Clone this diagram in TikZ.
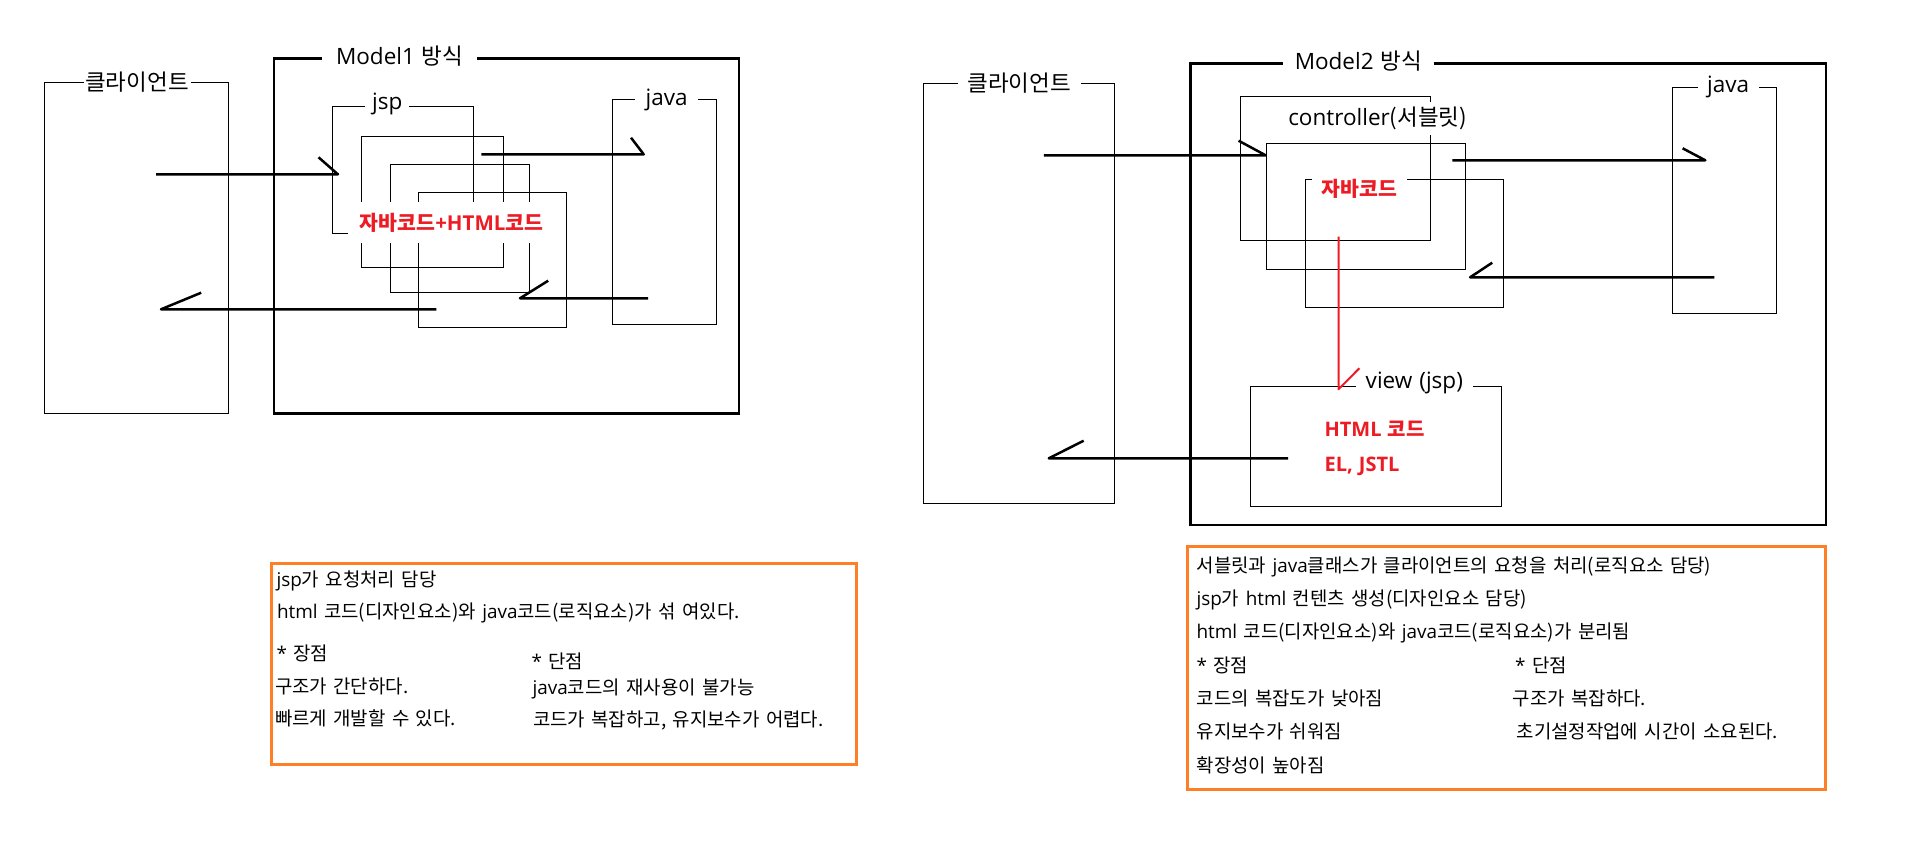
\documentclass[tikz,border=0pt]{standalone}
\usepackage{fontspec}
\setmainfont{Noto Sans CJK KR}
\newfontfamily\oslat{Open Sans}
\definecolor{cjred}{HTML}{ED1C24}
\definecolor{cjorange}{HTML}{FF7F27}
\newcommand\mylblfont{\fontsize{22.5}{26}\selectfont\spaceskip 7pt\relax}
\newcommand\myredfont{\bfseries\fontsize{20}{24}\selectfont\spaceskip 6pt\relax}
\newcommand\mynotefont{\fontsize{18.9}{22}\selectfont\spaceskip 6.4pt\relax}
\begin{document}
\begin{tikzpicture}[x=1pt,y=-1pt,
  thinbox/.style={draw,line width=1pt,inner sep=0pt,anchor=north west},
  modelbox/.style={draw,line width=2.5pt,inner sep=0pt,anchor=north west},
  notebox/.style={draw=cjorange,line width=3pt,inner sep=0pt,anchor=north west},
  lbl/.style={fill=white,inner xsep=0pt,inner ysep=1pt,font=\mylblfont},
  redlbl/.style={fill=white,text=cjred,inner xsep=0pt,inner ysep=0pt,font=\bfseries\fontsize{20.5}{24}\selectfont},
  redtxt/.style={anchor=west,inner sep=0pt,text=cjred,font=\myredfont},
  note/.style={anchor=west,inner sep=0pt,font=\mynotefont},
  flow/.style={line width=2.5pt,line join=round},
  redflow/.style={draw=cjred,line width=2pt,line join=round}]
\useasboundingbox[fill=white] (0,0) rectangle (1905,861);

% ---------------- Model1 ----------------
\node[thinbox,minimum width=184.2pt,minimum height=331pt] (cl1) at (43.6,82.3) {};
\node[lbl,minimum width=107pt] (cl1l) at (137,82) {클라이언트};
\node[modelbox,minimum width=464.9pt,minimum height=355pt] (m1) at (272.9,57.3) {};
\node[lbl,minimum width=155.5pt] (m1l) at (399.7,56.5) {{\oslat Model1} 방식};
\node[thinbox,minimum width=140.6pt,minimum height=127pt] (jsp1) at (332,106.3) {};
\node[lbl,minimum width=44pt] (jsp1l) at (387.2,103.5) {\oslat jsp};
\node[thinbox,minimum width=141.6pt,minimum height=131pt] (b2) at (361.1,136.3) {};
\node[thinbox,minimum width=138.6pt,minimum height=128pt] (b3) at (390.2,164.3) {};
\node[thinbox,minimum width=147.9pt,minimum height=135pt] (b4) at (418.3,192.3) {};
\node[redlbl,minimum height=41.6pt,minimum width=207pt] (mix) at (451.5,222.5) {자바코드{\oslat +HTML}코드};
\node[thinbox,minimum width=104.3pt,minimum height=225.6pt] (java1) at (611.7,98.7) {};
\node[lbl,minimum width=63.3pt] (java1l) at (666.7,99.5) {\oslat java};

\coordinate (a1s) at (156,174.3);   \coordinate (a1e) at (337.9,174.3); \coordinate (a1b) at (318.5,157.3);
\coordinate (a2s) at (481.3,154.3); \coordinate (a2e) at (643.7,154.3); \coordinate (a2b) at (631,137.7);
\coordinate (a3s) at (648,298.3);   \coordinate (a3e) at (520,298.3);   \coordinate (a3b) at (548.2,280.7);
\coordinate (a4s) at (436.3,309.3); \coordinate (a4e) at (161,309.3);   \coordinate (a4b) at (201.2,292.7);
\draw[flow] (a1s) -- (a1e) -- (a1b);
\draw[flow] (a2s) -- (a2e) -- (a2b);
\draw[flow] (a3s) -- (a3e) -- (a3b);
\draw[flow] (a4s) -- (a4e) -- (a4b);

% ---------------- Model2 ----------------
\node[thinbox,minimum width=191.6pt,minimum height=420pt] (cl2) at (922.7,83.3) {};
\node[lbl,minimum width=122.6pt] (cl2l) at (1019.3,83) {클라이언트};
\node[modelbox,minimum width=635.7pt,minimum height=461.3pt] (m2) at (1189,62.3) {};
\node[lbl,minimum width=151.3pt] (m2l) at (1358.4,61.5) {{\oslat Model2} 방식};
\node[thinbox,minimum width=190.4pt,minimum height=144pt] (ctrl) at (1239.9,96.3) {};
\node[lbl,inner xsep=4pt,minimum height=33pt] (ctrll) at (1377.7,118.5) {{\oslat controller}(서블릿)};
\node[thinbox,minimum width=199pt,minimum height=126pt] (bB) at (1266.2,143.3) {};
\node[thinbox,minimum width=197.8pt,minimum height=128pt] (bC) at (1304.8,179.3) {};
\node[redlbl,minimum height=26pt,minimum width=95.5pt] (jcode) at (1359.3,188.5) {자바코드};
\node[thinbox,minimum width=251pt,minimum height=120.3pt] (view) at (1249.7,385.7) {};
\node[lbl,minimum width=116.6pt] (viewl) at (1414.3,383) {\oslat view (jsp)};
\node[redtxt] (html) at (1324.4,428.3) {{\oslat HTML} 코드};
\node[redtxt] (eljstl) at (1324.4,466) {\oslat EL, JSTL};
\node[thinbox,minimum width=104.7pt,minimum height=226pt] (java2) at (1671.6,87.3) {};
\node[lbl,minimum width=60.6pt] (java2l) at (1728.2,87) {\oslat java};

\coordinate (rs) at (1338.5,236.7); \coordinate (re) at (1338.5,389.3); \coordinate (rb) at (1359.3,368.3);
\draw[redflow] (rs) -- (re) -- (rb);

\coordinate (b1s) at (1043.9,155.3); \coordinate (b1e) at (1265.6,155.3); \coordinate (b1b) at (1238.6,140.7);
\coordinate (b2s) at (1452.3,160.3); \coordinate (b2e) at (1705.3,160.3); \coordinate (b2b) at (1682.6,148.3);
\coordinate (b3s) at (1714.4,277.3); \coordinate (b3e) at (1470.1,277.3); \coordinate (b3b) at (1492.2,262.7);
\coordinate (b4s) at (1288.2,458.3); \coordinate (b4e) at (1048.8,458.3); \coordinate (b4b) at (1083.7,440.7);
\draw[flow] (b1s) -- (b1e) -- (b1b);
\draw[flow] (b2s) -- (b2e) -- (b2b);
\draw[flow] (b3s) -- (b3e) -- (b3b);
\draw[flow] (b4s) -- (b4e) -- (b4b);

% ---------------- notes ----------------
\node[notebox,minimum width=585.6pt,minimum height=201.6pt] (o1) at (269.7,561.7) {};
\node[note] (o1t1) at (276.3,580.5) {{\oslat jsp}가 요청처리 담당};
\node[note] (o1t2) at (276.8,613) {{\oslat html} 코드(디자인요소)와 {\oslat java}코드(로직요소)가 섞 여있다.};
\node[note] (o1t3) at (276.3,653.5) {{\oslat *} 장점};
\node[note] (o1t4) at (274.8,686.5) {구조가 간단하다.};
\node[note] (o1t5) at (274.8,718.3) {빠르게 개발할 수 있다.};
\node[note] (o1t6) at (531.5,661.7) {{\oslat *} 단점};
\node[note] (o1t7) at (532.4,688.5) {{\oslat java}코드의 재사용이 불가능};
\node[note] (o1t8) at (532.8,720) {코드가 복잡하고, 유지보수가 어렵다.};

\node[notebox,minimum width=637.7pt,minimum height=243.3pt] (o2) at (1186.2,545) {};
\node[note] (o2t1) at (1196.4,566.7) {서블릿과 {\oslat java}클래스가 클라이언트의 요청을 처리(로직요소 담당)};
\node[note] (o2t2) at (1196.4,600) {{\oslat jsp}가 {\oslat html} 컨텐츠 생성(디자인요소 담당)};
\node[note] (o2t3) at (1196.4,633.3) {{\oslat html} 코드(디자인요소)와 {\oslat java}코드(로직요소)가 분리됨};
\node[note] (o2t4) at (1196.4,665) {{\oslat *} 장점};
\node[note] (o2t5) at (1196.4,698.3) {코드의 복잡도가 낮아짐};
\node[note] (o2t6) at (1196.4,731.7) {유지보수가 쉬워짐};
\node[note] (o2t7) at (1196.4,765) {확장성이 높아짐};
\node[note] (o2t8) at (1515,665) {{\oslat *} 단점};
\node[note] (o2t9) at (1512.5,698.3) {구조가 복잡하다.};
\node[note] (o2t10) at (1516.4,731.7) {초기설정작업에 시간이 소요된다.};
\end{tikzpicture}
\end{document}
